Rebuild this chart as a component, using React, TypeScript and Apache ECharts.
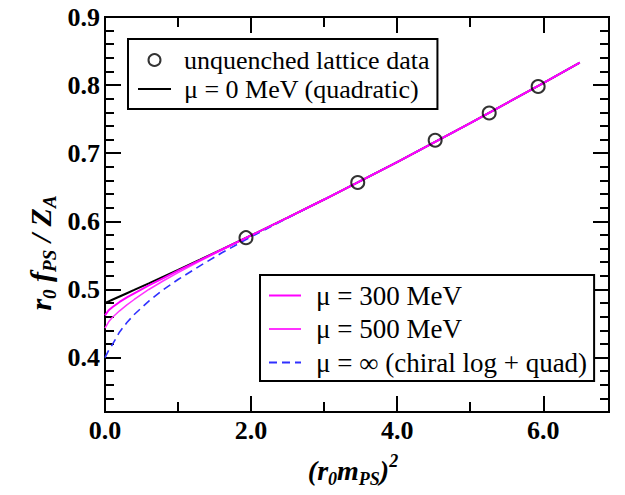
import React, { useEffect, useRef } from "react";
import * as echarts from "echarts";

// curve sample positions (r0 mPS)^2
const CURVE_X = [0, 0.05, 0.1, 0.2, 0.3, 0.4, 0.6, 0.8, 1.0, 1.3, 1.6, 2.0, 2.5, 3.0, 4.0, 5.0, 6.0, 6.5];
const MU0_QUAD = [0.480, 0.4824, 0.4848, 0.4896, 0.4944, 0.4992, 0.5089, 0.5187, 0.5286, 0.5436, 0.5588, 0.5793, 0.6054, 0.632, 0.687, 0.744, 0.803, 0.833];
const MU300 = [0.462, 0.4694, 0.4738, 0.4816, 0.4884, 0.4942, 0.5059, 0.5167, 0.5276, 0.5431, 0.5586, 0.5793, 0.6054, 0.632, 0.687, 0.744, 0.803, 0.833];
const MU500 = [0.443, 0.4524, 0.4588, 0.4686, 0.4774, 0.4852, 0.4999, 0.5127, 0.5246, 0.5416, 0.5578, 0.5793, 0.6054, 0.632, 0.687, 0.744, 0.803, 0.833];
const MU_INF = [0.400, 0.4104, 0.4188, 0.4376, 0.4514, 0.4632, 0.4829, 0.4997, 0.5146, 0.5346, 0.5538, 0.5773, 0.6049, 0.632, 0.687, 0.744, 0.803, 0.833];

// lattice data
const LAT_X = [1.93, 3.46, 4.52, 5.26, 5.93];
const LAT_Y = [0.576, 0.657, 0.719, 0.759, 0.798];

// ticks
const X_MAJOR = [0, 2, 4, 6];
const X_MINOR = [1, 3, 5];
const Y_MAJOR = [0.4, 0.5, 0.6, 0.7, 0.8, 0.9];
const Y_MINOR = [0.34, 0.36, 0.38, 0.42, 0.44, 0.46, 0.48, 0.52, 0.54, 0.56, 0.58, 0.62, 0.64, 0.66, 0.68, 0.72, 0.74, 0.76, 0.78, 0.82, 0.84, 0.86, 0.88];

const NAMES = {
  lat: "unquenched lattice data",
  quad: "μ = 0 MeV (quadratic)",
  m300: "μ = 300 MeV",
  m500: "μ = 500 MeV",
  inf: "μ = ∞ (chiral log + quad)",
};

const SERIF = "Liberation Serif";

function zip(xs: number[], ys: number[]) {
  return xs.map((x, i) => [x, ys[i]]);
}

export default function App() {
  const ref = useRef<HTMLDivElement>(null);
  useEffect(() => {
    if (!ref.current) return;
    const chart = echarts.init(ref.current, undefined, { renderer: "svg" });
    const XMIN = 0, XMAX = 6.9, YMIN = 0.32, YMAX = 0.9;
    const line = { lineStyle: { color: "#000", width: 2 } };
    const tickFont = { fontFamily: SERIF, fontSize: 26, fontWeight: "bold", color: "#000" };
    const mkX = (pos: string, vals: number[], len: number, labels: boolean) => ({
      type: "value",
      position: pos,
      min: XMIN,
      max: XMAX,
      offset: 0,
      axisLine: { show: true, onZero: false, ...line },
      axisTick: { show: true, inside: true, length: len, customValues: vals, lineStyle: { color: "#000", width: 2 } },
      axisLabel: labels
        ? { show: true, customValues: X_MAJOR, formatter: (v: number) => v.toFixed(1), ...tickFont, margin: 5 }
        : { show: false },
      splitLine: { show: false },
    });
    const mkY = (pos: string, vals: number[], len: number, labels: boolean) => ({
      type: "value",
      position: pos,
      min: YMIN,
      max: YMAX,
      offset: 0,
      axisLine: { show: true, onZero: false, ...line },
      axisTick: { show: true, inside: true, length: len, customValues: vals, lineStyle: { color: "#000", width: 2 } },
      axisLabel: labels
        ? { show: true, customValues: Y_MAJOR, formatter: (v: number) => v.toFixed(1), ...tickFont, margin: 5 }
        : { show: false },
      splitLine: { show: false },
    });

    const sub = { fontFamily: SERIF, fontStyle: "italic", fontWeight: "bold", fontSize: 19, lineHeight: 13, verticalAlign: "bottom", color: "#000" };
    const main = { fontFamily: SERIF, fontStyle: "italic", fontWeight: "bold", fontSize: 30, lineHeight: 38, verticalAlign: "middle", color: "#000" };
    const mainX = { ...main, fontSize: 28, lineHeight: 36 };
    const subX = { ...sub, fontSize: 18 };
    const sup = { fontFamily: SERIF, fontStyle: "italic", fontWeight: "bold", fontSize: 18, lineHeight: 13, verticalAlign: "top", color: "#000" };
    const hideDot = { opacity: 0 };

    chart.setOption({
      animation: false,
      backgroundColor: "#fff",
      grid: { left: 105, right: 16, top: 17, bottom: 83 },
      xAxis: [
        mkX("bottom", X_MAJOR, 16, true),
        mkX("bottom", X_MINOR, 10, false),
        mkX("top", X_MAJOR, 16, false),
        mkX("top", X_MINOR, 10, false),
      ],
      yAxis: [
        mkY("left", Y_MAJOR, 16, true),
        mkY("left", Y_MINOR, 9, false),
        mkY("right", Y_MAJOR, 16, false),
        mkY("right", Y_MINOR, 9, false),
      ],
      legend: [
        {
          left: 128,
          top: 39,
          orient: "vertical",
          selectedMode: false,
          backgroundColor: "#fff",
          borderColor: "#000",
          borderWidth: 2,
          borderRadius: 0,
          padding: [8, 8, 7, 9],
          itemWidth: 33,
          itemHeight: 12,
          itemGap: 3,
          textStyle: { fontFamily: SERIF, fontSize: 26, color: "#000", lineHeight: 26, padding: [0, 0, 0, 8] },
          data: [{ name: NAMES.lat }, { name: NAMES.quad, itemStyle: hideDot }],
        },
        {
          left: 260,
          top: 275,
          orient: "vertical",
          selectedMode: false,
          backgroundColor: "#fff",
          borderColor: "#000",
          borderWidth: 2,
          borderRadius: 0,
          padding: [7, 7, 5, 8],
          itemWidth: 32,
          itemHeight: 12,
          itemGap: 6.5,
          textStyle: { fontFamily: SERIF, fontSize: 27, color: "#000", lineHeight: 26, padding: [0, 0, 0, 10] },
          data: [
            { name: NAMES.m300, itemStyle: hideDot },
            { name: NAMES.m500, itemStyle: hideDot },
            { name: NAMES.inf, itemStyle: hideDot },
          ],
        },
      ],
      graphic: [
        {
          type: "text",
          x: 40,
          y: 253,
          rotation: Math.PI / 2,
          style: {
            text: "{m|r}{s|0}{m| f}{s|PS}{m| / Z}{s|A}",
            rich: { m: main, s: sub },
            align: "center",
            verticalAlign: "middle",
          },
        },
        {
          type: "text",
          x: 353,
          y: 470,
          style: {
            text: "{m|(r}{s|0}{m|m}{s|PS}{m|)}{p|2}",
            rich: { m: mainX, s: subX, p: sup },
            align: "center",
            verticalAlign: "middle",
          },
        },
      ],
      series: [
        {
          name: NAMES.quad,
          type: "line",
          data: zip(CURVE_X, MU0_QUAD),
          symbol: "none",
          smooth: false,
          lineStyle: { color: "#000", width: 2 },
          itemStyle: { color: "#000" },
          z: 2,
        },
        {
          name: NAMES.inf,
          type: "line",
          data: zip(CURVE_X, MU_INF),
          symbol: "none",
          smooth: false,
          lineStyle: { color: "#3030ff", width: 1.6, type: [8, 5] },
          itemStyle: { color: "#3030ff" },
          z: 3,
        },
        {
          name: NAMES.m500,
          type: "line",
          data: zip(CURVE_X, MU500),
          symbol: "none",
          smooth: false,
          lineStyle: { color: "#ff33ff", width: 1.5 },
          itemStyle: { color: "#ff33ff" },
          z: 4,
        },
        {
          name: NAMES.m300,
          type: "line",
          data: zip(CURVE_X, MU300),
          symbol: "none",
          smooth: false,
          lineStyle: { color: "#ff00ff", width: 2 },
          itemStyle: { color: "#ff00ff" },
          z: 5,
        },
        {
          name: NAMES.lat,
          type: "scatter",
          data: zip(LAT_X, LAT_Y),
          symbol: "circle",
          symbolSize: 13,
          itemStyle: { color: "rgba(0,0,0,0)", borderColor: "#000", borderWidth: 2 },
          z: 6,
        },
      ],
    });
    return () => chart.dispose();
  }, []);
  return <div ref={ref} style={{ width: 625, height: 495, position: "absolute", left: 0, top: 0 }} />;
}
